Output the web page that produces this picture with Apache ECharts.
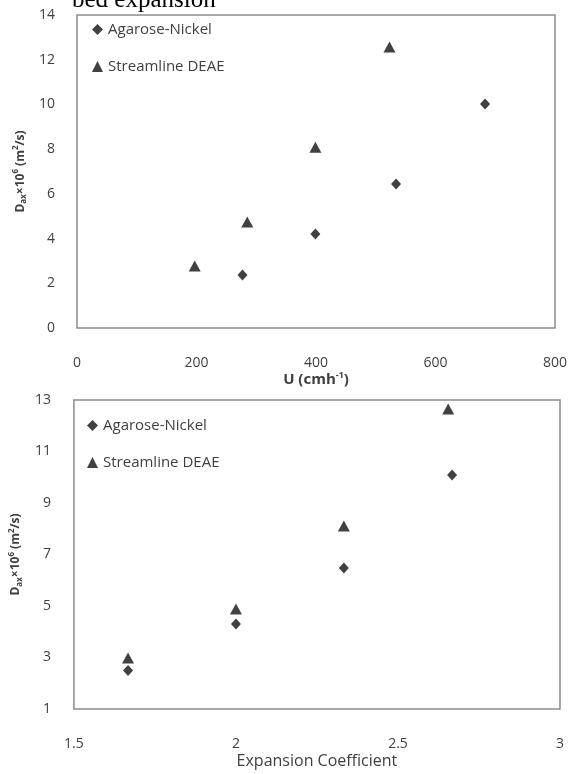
<!DOCTYPE html>
<html>
<head>
<meta charset="utf-8">
<script src="https://cdn.jsdelivr.net/npm/echarts@6/dist/echarts.min.js"></script>
<style>
    html, body { margin: 0; padding: 0; background: #fff; }
    #chart { width: 570px; height: 774px; }
</style>
</head>
<body>
<div id="chart"></div>
<script>
// top panel: dispersion vs superficial velocity
var velNickel = [277, 399, 534, 683];
var dNickelTop = [2.37, 4.2, 6.44, 10.02];
var velDeae = [197, 285, 399, 523];
var dDeaeTop = [2.77, 4.74, 8.09, 12.57];

// bottom panel: dispersion vs expansion coefficient
var expNickel = [1.667, 2.0, 2.333, 2.667];
var dNickelBottom = [2.5, 4.3, 6.48, 10.09];
var expDeae = [1.667, 2.0, 2.333, 2.655];
var dDeaeBottom = [2.98, 4.88, 8.11, 12.65];

var seriesNames = ['Agarose-Nickel', 'Streamline DEAE'];

var labelFont = 'Open Sans';
var textGrey = '#3f3f3f';

function pairs(xs, ys) {
    var out = [];
    for (var i = 0; i < xs.length; i++) {
        out.push([xs[i], ys[i]]);
    }
    return out;
}

var dName = '{b|D}{sub|ax}{b|\u00d710}{sup|6}{b| (m}{sup|2}{b|/s)}';
var dRich = {
    b: { fontFamily: labelFont, fontWeight: 'bold', fontSize: 12, color: textGrey, lineHeight: 16 },
    sub: { fontFamily: labelFont, fontWeight: 'bold', fontSize: 8, color: textGrey, verticalAlign: 'bottom', lineHeight: 16 },
    sup: { fontFamily: labelFont, fontWeight: 'bold', fontSize: 8, color: textGrey, verticalAlign: 'top', lineHeight: 16 }
};
var uRich = {
    b: { fontFamily: labelFont, fontWeight: 'bold', fontSize: 15, color: textGrey, lineHeight: 18 },
    sup: { fontFamily: labelFont, fontWeight: 'bold', fontSize: 9, color: textGrey, verticalAlign: 'top', lineHeight: 18 }
};

function tickLabels(margin) {
    return { fontFamily: labelFont, fontSize: 14, color: textGrey, margin: margin };
}

function plainAxis(extra) {
    var ax = {
        type: 'value',
        axisLine: { show: false },
        axisTick: { show: false },
        splitLine: { show: false }
    };
    for (var k in extra) {
        ax[k] = extra[k];
    }
    return ax;
}

function legendFor(left, top) {
    return {
        orient: 'vertical',
        left: left,
        top: top,
        itemGap: 22,
        itemWidth: 11,
        itemHeight: 11,
        textStyle: { fontFamily: labelFont, fontSize: 15, color: textGrey },
        data: seriesNames
    };
}

function scatter(name, symbol, size, xIdx, data) {
    return {
        name: name,
        type: 'scatter',
        xAxisIndex: xIdx,
        yAxisIndex: xIdx,
        symbol: symbol,
        symbolSize: size,
        itemStyle: { color: '#111' },
        data: data
    };
}

var option = {
    animation: false,
    backgroundColor: '#fff',
    grid: [
        { left: 77, right: 14, top: 15, bottom: 446, show: true, borderColor: '#8c8c8c', borderWidth: 1.5, backgroundColor: 'transparent' },
        { left: 73, right: 10, top: 400, bottom: 65, show: true, borderColor: '#8c8c8c', borderWidth: 1.5, backgroundColor: 'transparent' }
    ],
    legend: [legendFor(87, 17), legendFor(82, 413)],
    xAxis: [
        plainAxis({
            gridIndex: 0, min: 0, max: 800, interval: 200,
            axisLabel: tickLabels(28),
            name: '{b|U (cmh}{sup|-1}{b|)}',
            nameLocation: 'middle',
            nameGap: 38,
            nameTextStyle: { rich: uRich }
        }),
        plainAxis({
            gridIndex: 1, min: 1.5, max: 3, interval: 0.5,
            axisLabel: tickLabels(28),
            name: 'Expansion Coefficient',
            nameLocation: 'middle',
            nameGap: 44,
            nameTextStyle: { fontFamily: labelFont, fontSize: 16, color: textGrey }
        })
    ],
    yAxis: [
        plainAxis({
            gridIndex: 0, min: 0, max: 14, interval: 2,
            axisLabel: tickLabels(22),
            name: dName,
            nameLocation: 'middle',
            nameRotate: 90,
            nameGap: 45,
            nameTextStyle: { rich: dRich }
        }),
        plainAxis({
            gridIndex: 1, min: 1, max: 13, interval: 2,
            axisLabel: tickLabels(23),
            name: dName,
            nameLocation: 'middle',
            nameRotate: 90,
            nameGap: 41,
            nameTextStyle: { rich: dRich }
        })
    ],
    graphic: [{
        type: 'text',
        left: 72,
        top: -12,
        style: {
            text: 'bed expansion',
            font: '25px "Liberation Serif"',
            fill: '#000'
        }
    }],
    series: [
        scatter(seriesNames[0], 'diamond', [10, 11], 0, pairs(velNickel, dNickelTop)),
        scatter(seriesNames[1], 'triangle', [12, 11], 0, pairs(velDeae, dDeaeTop)),
        scatter(seriesNames[0], 'diamond', [10, 11], 1, pairs(expNickel, dNickelBottom)),
        scatter(seriesNames[1], 'triangle', [12, 11], 1, pairs(expDeae, dDeaeBottom))
    ]
};

var myChart = echarts.init(document.getElementById('chart'));
myChart.setOption(option);
</script>
</body>
</html>
